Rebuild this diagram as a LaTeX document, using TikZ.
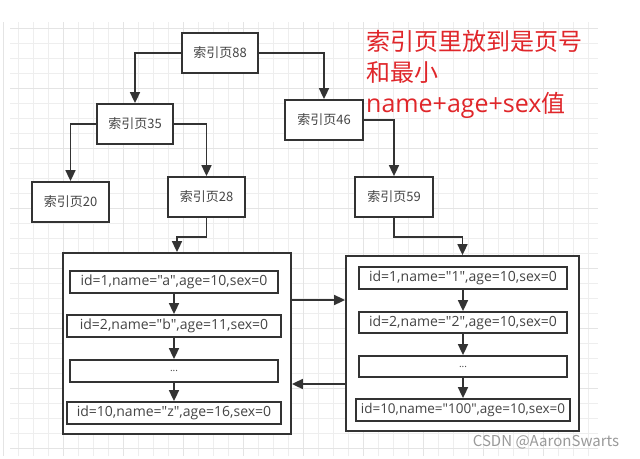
\documentclass[tikz,border=0pt]{standalone}
\usepackage{fontspec}
\setmainfont{Noto Sans CJK SC}[Ligatures=TeXOff]
\newfontfamily\latinfont{Open Sans}[Ligatures=TeXOff]
\usetikzlibrary{arrows.meta,calc}
\definecolor{boxline}{HTML}{333333}
\definecolor{boxtext}{HTML}{444444}
\definecolor{gridminor}{HTML}{EEEEEE}
\definecolor{gridmajor}{HTML}{E4E4E4}
\definecolor{notered}{HTML}{E0262A}
\definecolor{wmark}{HTML}{9A9A9A}
\tikzset{
  pagebox/.style={draw=boxline,line width=1.8pt,fill=white,inner sep=0pt,
    text=boxtext,font=\fontsize{13}{15}\selectfont,minimum height=40pt},
  bigbox/.style={draw=boxline,line width=1.8pt,fill=white,inner sep=0pt},
  rowbox/.style={draw=boxline,line width=1.8pt,fill=white,inner sep=0pt,
    text=boxtext,font=\latinfont\fontsize{14}{16}\selectfont,minimum height=22pt},
  arr/.style={draw=boxline,line width=1.7pt,-{Triangle[length=11pt,width=10pt]}},
}
\begin{document}
\begin{tikzpicture}[x=1pt,y=-1pt]
\useasboundingbox (0,0) rectangle (640,458);
\fill[white] (0,0) rectangle (640,458);
% grid
\foreach \k in {0,...,38}{
  \draw[gridminor,line width=0.8pt] ({18.3+15*\k},22) -- ({18.3+15*\k},456);
}
\foreach \k in {0,...,28}{
  \draw[gridminor,line width=0.8pt] (10,{28.3+15*\k}) -- (598,{28.3+15*\k});
}
\foreach \k in {0,...,9}{
  \draw[gridmajor,line width=0.8pt] ({3.3+60*\k},22) -- ({3.3+60*\k},456);
}
\foreach \k in {0,...,7}{
  \draw[gridmajor,line width=0.8pt] (10,{28.3+60*\k}) -- (598,{28.3+60*\k});
}
% index pages
\node[pagebox,minimum width=76pt] (n88) at (220,53) {索引页88};
\node[pagebox,minimum width=76pt] (n35) at (135,124) {索引页35};
\node[pagebox,minimum width=77pt] (n20) at (70.5,202) {索引页20};
\node[pagebox,minimum width=77pt] (n28) at (206.5,197) {索引页28};
\node[pagebox,minimum width=78pt] (n46) at (324,120) {索引页46};
\node[pagebox,minimum width=78pt] (n59) at (394,197) {索引页59};
% data pages
\node[bigbox,minimum width=228pt,minimum height=181pt] (bigL) at (177,343.5) {};
\node[bigbox,minimum width=233pt,minimum height=175pt] (bigR) at (462.5,343.5) {};
\node[rowbox,minimum width=208pt] (L1) at (174,282) {id=1,name="a",age=10,sex=0};
\node[rowbox,minimum width=214pt] (L2) at (174,326) {id=2,name="b",age=11,sex=0};
\node[rowbox,minimum width=208pt] (L3) at (174,371) {\fontsize{10}{12}\selectfont...};
\node[rowbox,minimum width=214pt] (L4) at (174,413) {id=10,name="z",age=16,sex=0};
\node[rowbox,minimum width=208pt] (R1) at (463,278) {id=1,name="1",age=10,sex=0};
\node[rowbox,minimum width=208pt,minimum height=21pt] (R2) at (463,322.5) {id=2,name="2",age=10,sex=0};
\node[rowbox,minimum width=208pt,minimum height=21pt] (R3) at (463,366.5) {\fontsize{10}{12}\selectfont...};
\node[rowbox,minimum width=214pt] (R4) at (463,410) {\fontsize{13.5}{16}\selectfont id=10,name="100",age=10,sex=0};
% tree connectors
\draw[arr] (n88.west) -| (n35.north);
\draw[arr] (n88.east) -| (n46.north);
\draw[arr] (n35.west) -| (n20.north);
\draw[arr] (n35.east) -| (n28.north);
\draw[arr] (n46.east) -| (n59.north);
\draw[arr] (n28.south) -- ++(0,19) -| (bigL.north);
\draw[arr] (n59.south) -- ++(0,19) -| (bigR.north);
% row connectors
\draw[arr] (L1.south) -- (L2.north);
\draw[arr] (L2.south) -- (L3.north);
\draw[arr] (L3.south) -- (L4.north);
\draw[arr] (R1.south) -- (R2.north);
\draw[arr] (R2.south) -- (R3.north);
\draw[arr] (R3.south) -- (R4.north);
% page links
\coordinate (lr) at (bigL.east |- 0,300);
\coordinate (rl) at (bigR.west |- 0,384);
\draw[arr] (lr) -- (lr -| bigR.west);
\draw[arr] (rl) -- (rl -| bigL.east);
% note
\node[anchor=north west,align=left,text=notered,inner sep=0pt,
  font=\fontsize{24}{31}\selectfont] (note) at (366,30)
  {索引页里放到是页号\\和最小\\{\latinfont\fontsize{25}{31}\selectfont name+age+sex}值};
\node[text=wmark,inner sep=0pt,font=\fontsize{15}{17}\selectfont] (wm) at (546,442) {CSDN @AaronSwarts};
\end{tikzpicture}
\end{document}
